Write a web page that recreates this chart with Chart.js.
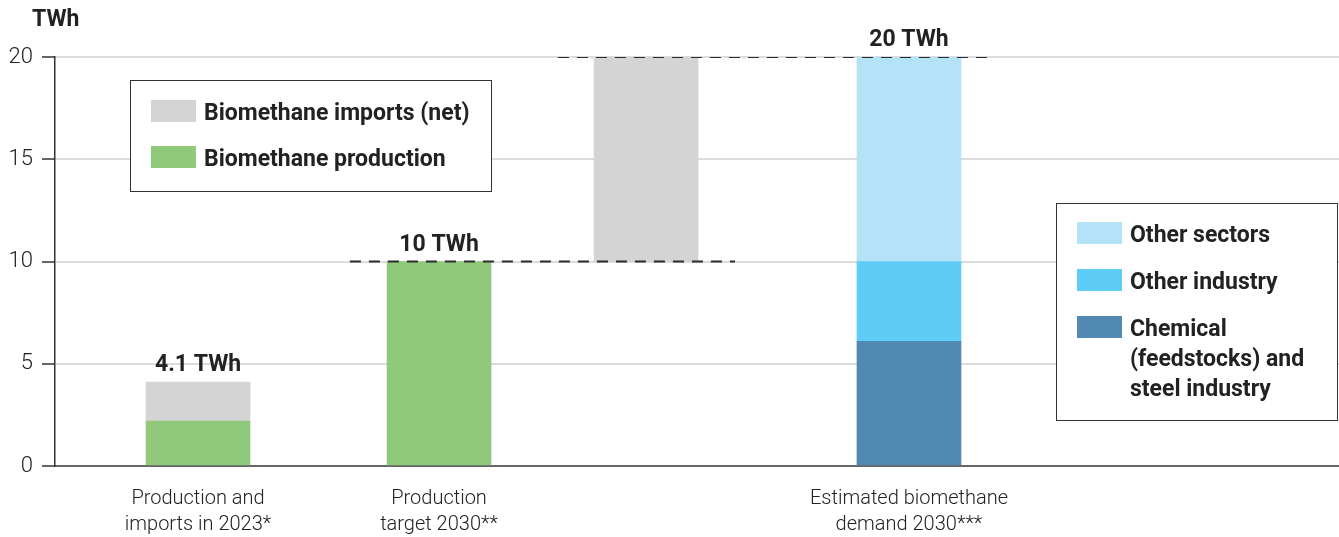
<!DOCTYPE html>
<html>
<head>
<meta charset="utf-8">
<script src="https://cdn.jsdelivr.net/npm/chart.js@4.4.1/dist/chart.umd.min.js"></script>
<style>
  html, body { margin: 0; padding: 0; background: #fff; }
  #wrap { width: 1339px; height: 537px; position: relative; }
</style>
</head>
<body>
<div id="wrap"><canvas id="chart"></canvas></div>
<script>
// bar positions on the x axis (0..100)
const barX = [11.14, 29.91, 46.03, 66.51];
const categoryLabels = [
    ['Production and', 'imports in 2023*'],
    ['Production', 'target 2030**'],
    null,
    ['Estimated biomethane', 'demand 2030***']
];

// TWh
const production = [2.2, 10];          // 2023, target 2030
const importsNet = [1.9, 10];          // 2023, gap to demand 2030
const demandChemical = [6.1];
const demandOtherIndustry = [3.9];
const demandOtherSectors = [10];

const totalLabels = ['4.1 TWh', '10 TWh', '20 TWh'];
const yTicks = [0, 5, 10, 15, 20];

// dashed reference lines
const refLow = { y: 10, from: 22.97, to: 52.96 };
const refHigh = { y: 20, from: 39.17, to: 72.82 };

const C = {
    imports: '#d4d4d4',
    production: '#91c97b',
    otherSectors: '#b4e3f7',
    otherIndustry: '#5dcdf7',
    chemical: '#5289b2',
    text: '#222222'
};

const legendLeft = [
    { label: ['Biomethane imports (net)'], color: C.imports },
    { label: ['Biomethane production'], color: C.production }
];
const legendRight = [
    { label: ['Other sectors'], color: C.otherSectors },
    { label: ['Other industry'], color: C.otherIndustry },
    { label: ['Chemical', '(feedstocks) and', 'steel industry'], color: C.chemical }
];

const FONT = 'Roboto, "Noto Sans", sans-serif';

const prod2030Top = production[1];
const chemTop = demandChemical[0];
const indTop = chemTop + demandOtherIndustry[0];

function bar(label, color, data) {
    return {
        type: 'bar', label, data, backgroundColor: color,
        barThickness: 104, borderWidth: 0, grouped: false, order: 2
    };
}

const datasets = [
    bar('Biomethane production', C.production, [
        { x: barX[0], y: [0, production[0]] },
        { x: barX[1], y: [0, production[1]] }
    ]),
    bar('Biomethane imports (net)', C.imports, [
        { x: barX[0], y: [production[0], production[0] + importsNet[0]] },
        { x: barX[2], y: [prod2030Top, prod2030Top + importsNet[1]] }
    ]),
    bar('Chemical', C.chemical, [{ x: barX[3], y: [0, chemTop] }]),
    bar('Other industry', C.otherIndustry, [{ x: barX[3], y: [chemTop, indTop] }]),
    bar('Other sectors', C.otherSectors, [{ x: barX[3], y: [indTop, indTop + demandOtherSectors[0]] }]),
    {
        type: 'line', label: 'ref10', order: 0,
        data: [{ x: refLow.from, y: refLow.y }, { x: refLow.to, y: refLow.y }],
        borderColor: '#2b2b2b', borderWidth: 2, borderDash: [11, 8], pointRadius: 0
    },
    {
        type: 'line', label: 'ref20', order: 0,
        data: [{ x: refHigh.from, y: refHigh.y }, { x: refHigh.to, y: refHigh.y }],
        borderColor: '#2b2b2b', borderWidth: 2, borderDash: [11, 8], pointRadius: 0
    }
];

const annotations = {
    id: 'annotations',
    afterDatasetsDraw(chart) {
        const { ctx, scales: { x, y } } = chart;
        ctx.save();
        // totals above bars
        const totals = [production[0] + importsNet[0], production[1], indTop + demandOtherSectors[0]];
        const totalX = [barX[0], barX[1], barX[3]];
        ctx.font = 'bold 23px ' + FONT;
        ctx.fillStyle = C.text;
        ctx.textAlign = 'center';
        ctx.textBaseline = 'alphabetic';
        totals.forEach((t, i) => {
            ctx.fillText(totalLabels[i], x.getPixelForValue(totalX[i]), y.getPixelForValue(t) - 11);
        });

        // axis title
        ctx.textAlign = 'left';
        ctx.textBaseline = 'middle';
        ctx.fillText('TWh', 32, 20);

        drawLegend(ctx, legendLeft, 130, 80, 361, 111, 100, 46);
        drawLegend(ctx, legendRight, 1056, 203, 281, 217, 222, 47);
        ctx.restore();
    }
};

function drawLegend(ctx, items, bx, by, bw, bh, firstY, step) {
    ctx.fillStyle = '#fff';
    ctx.fillRect(bx, by, bw, bh);
    ctx.strokeStyle = '#333';
    ctx.lineWidth = 1;
    ctx.strokeRect(bx + 0.5, by + 0.5, bw, bh);
    ctx.font = 'bold 23px ' + FONT;
    ctx.textAlign = 'left';
    ctx.textBaseline = 'middle';
    items.forEach((it, i) => {
        const sy = firstY + i * step;
        ctx.fillStyle = it.color;
        ctx.fillRect(bx + 21, sy, 45, 22);
        ctx.fillStyle = C.text;
        it.label.forEach((line, j) => {
            ctx.fillText(line, bx + 74, sy + 14 + j * 30);
        });
    });
}

new Chart(document.getElementById('chart'), {
    data: { datasets },
    options: {
        responsive: true,
        maintainAspectRatio: false,
        animation: false,
        layout: { padding: { top: 57, right: 0, bottom: 0, left: 0 } },
        plugins: { legend: { display: false }, tooltip: { enabled: false } },
        scales: {
            x: {
                type: 'linear', min: 0, max: 100, offset: false,
                afterBuildTicks: s => { s.ticks = [0, 1, 3].map(i => ({ value: barX[i] })); },
                afterFit: s => { s.height = 71; },
                grid: { display: false },
                border: { color: '#666', width: 2 },
                ticks: {
                    autoSkip: false, maxRotation: 0, padding: 12,
                    color: C.text, font: { family: FONT, size: 20, weight: '300', lineHeight: 1.3 },
                    callback: v => categoryLabels[barX.indexOf(v)] || ''
                }
            },
            y: {
                min: 0, max: 20,
                afterBuildTicks: s => { s.ticks = yTicks.map(v => ({ value: v })); },
                afterFit: s => { s.width = 55; },
                grid: { color: '#dcdcdc', lineWidth: 2, tickLength: 13, tickColor: '#333', tickWidth: 1.5 },
                border: { color: '#333', width: 1.5 },
                ticks: { color: C.text, padding: 9, font: { family: FONT, size: 22, weight: '300' } }
            }
        }
    },
    plugins: [annotations]
});
</script>
</body>
</html>
